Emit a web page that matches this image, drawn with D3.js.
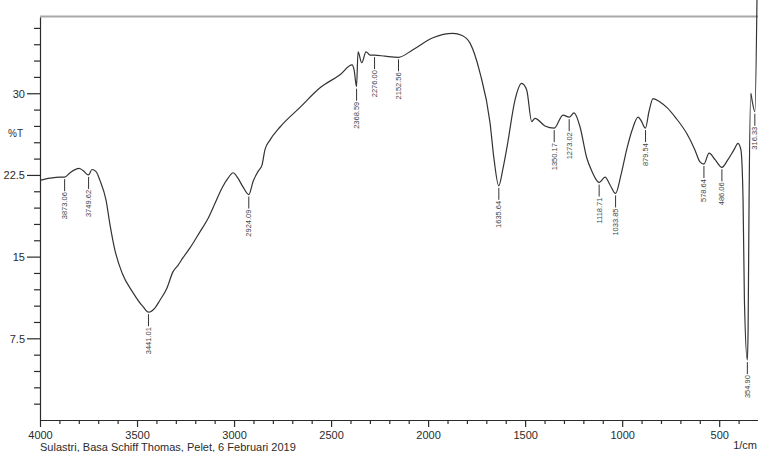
<!DOCTYPE html>
<html>
<head>
<meta charset="utf-8">
<script src="https://cdn.jsdelivr.net/npm/d3@7"></script>
<style>
  body { margin: 0; background: #fff; }
  svg { display: block; font-family: Arial, 'Liberation Sans', sans-serif; }
</style>
</head>
<body>
<div id="irFrame"></div>
<script>
// spectrum: wavenumber (1/cm) and transmittance (%T)
const wavenumber = [4000, 3948, 3897, 3873, 3845, 3799, 3778, 3750, 3732, 3711, 3691, 3660, 3639, 3614, 3577, 3521, 3469, 3441,
  3407, 3382, 3346, 3315, 3289, 3263, 3227, 3175, 3134, 3098, 3062, 3031, 3005, 2980, 2954, 2924, 2902, 2877, 2856, 2841,
  2815, 2763, 2660, 2557, 2454, 2392, 2381, 2369, 2361, 2342, 2320, 2299, 2276, 2222, 2153, 2078, 1975, 1872, 1825, 1784,
  1733, 1681, 1660, 1636, 1614, 1593, 1552, 1518, 1492, 1466, 1449, 1398, 1350, 1305, 1273, 1248, 1217, 1183, 1155, 1131,
  1119, 1088, 1063, 1034, 1006, 977, 949, 918, 903, 880, 862, 841, 805, 770, 722, 667, 625, 599, 579, 552, 521, 486, 455,
  424, 403, 388, 377, 370, 355, 351, 346, 337, 331, 316, 305]
const transmittance = [22.0, 22.2, 22.3, 22.3, 22.7, 23.1, 22.9, 22.5, 23.0, 22.8, 22.0, 20.2, 17.9, 15.6, 13.5, 11.7, 10.4, 9.9,
  10.3, 11.0, 12.1, 13.6, 14.2, 14.9, 15.8, 17.3, 18.5, 19.9, 21.3, 22.2, 22.7, 22.2, 21.4, 20.7, 21.9, 22.8, 23.4, 24.8,
  25.7, 26.9, 28.7, 30.5, 31.7, 32.6, 32.1, 30.6, 33.8, 32.8, 33.8, 33.5, 33.5, 33.4, 33.3, 34.0, 35.1, 35.5, 35.3, 34.6,
  31.9, 27.3, 23.9, 21.5, 23.1, 25.1, 29.4, 30.9, 30.3, 27.4, 27.7, 27.0, 26.8, 28.0, 27.8, 28.2, 26.9, 24.1, 22.8, 22.0,
  21.8, 22.3, 21.6, 20.8, 22.5, 24.8, 26.6, 27.8, 27.5, 26.8, 28.3, 29.5, 29.2, 28.7, 27.7, 26.3, 24.8, 23.7, 23.5, 24.5, 23.9,
  23.2, 23.9, 24.8, 25.4, 24.8, 20.2, 11.0, 5.5, 8.3, 20.2, 30.0, 29.4, 28.3, 39.0]

// peak picks printed on the chart
const peakLabels = ['3873.06', '3749.62', '3441.01', '2924.09', '2368.59', '2276.00', '2152.56', '1635.64', '1350.17',
  '1273.02', '1118.71', '1033.85', '879.54', '578.64', '486.06', '354.90', '316.33']
const peakT = [22.3, 22.5, 9.9, 20.7, 30.6, 33.5, 33.3, 21.5, 26.8, 27.8, 21.8, 20.8, 26.8, 23.5, 23.2, 5.5, 28.3]

const xMajor = [4000, 3500, 3000, 2500, 2000, 1500, 1000, 500]
const yMajor = [7.5, 15, 22.5, 30]
const footer = 'Sulastri, Basa Schiff Thomas, Pelet, 6 Februari 2019'

const width = 758
const height = 452
const plot = { left: 40, right: 758, top: 17, bottom: 420 }
const ink = '#2b2b2b'

let svg = d3.select('#irFrame')
  .append('svg')
  .attr('width', width)
  .attr('height', height)

let xScale = d3.scaleLinear()
  .domain([4000, 300])
  .range([plot.left, plot.right])
let yScale = d3.scaleLinear()
  .domain([0, 37])
  .range([plot.bottom, plot.top])

// grey frame line on top
svg.append('line')
  .attr('x1', plot.left)
  .attr('x2', plot.right)
  .attr('y1', plot.top - 0.5)
  .attr('y2', plot.top - 0.5)
  .style('stroke', '#a8a8a8')
  .style('stroke-width', 2)

// x axis, minor then major ticks
let xMinor = d3.range(3900, 300, -100).filter(v => v % 500 !== 0)
svg.append('g')
  .attr('transform', `translate(0, ${plot.bottom})`)
  .call(d3.axisBottom(xScale).tickValues(xMinor).tickSize(4).tickFormat(''))
  .call(g => g.select('.domain').remove())
let xAxis = svg.append('g')
  .attr('transform', `translate(0, ${plot.bottom})`)
  .call(d3.axisBottom(xScale).tickValues(xMajor).tickSize(7).tickSizeOuter(0).tickPadding(4).tickFormat(d3.format('d')))

// y axis, minor then major ticks
let yMinor = d3.range(1.5, 37, 1.5).filter(v => Math.abs(v / 7.5 - Math.round(v / 7.5)) > 1e-6)
svg.append('g')
  .attr('transform', `translate(${plot.left}, 0)`)
  .call(d3.axisLeft(yScale).tickValues(yMinor).tickSize(6).tickFormat(''))
  .call(g => g.select('.domain').remove())
let yAxis = svg.append('g')
  .attr('transform', `translate(${plot.left}, 0)`)
  .call(d3.axisLeft(yScale).tickValues(yMajor).tickSize(13).tickSizeOuter(0).tickPadding(2).tickFormat(d => d))

svg.selectAll('.tick line, .domain')
  .style('stroke', ink)
  .style('stroke-width', 1.2)
svg.selectAll('.tick text')
  .style('font-size', '11px')
  .style('fill', ink)
yAxis.selectAll('.tick text').attr('dy', '0.35em')

// the spectrum
let spectrum = wavenumber.map((w, i) => ({ x: w, y: transmittance[i] }))
let line = d3.line()
  .curve(d3.curveMonotoneX)
  .x(d => xScale(d.x))
  .y(d => yScale(d.y))
svg.append('path')
  .datum(spectrum)
  .style('fill', 'none')
  .style('stroke', '#333')
  .style('stroke-width', 1.2)
  .style('stroke-linejoin', 'round')
  .attr('d', line)

// peak labels: leader line under the dip, rotated text below it
let peaks = peakLabels.map((t, i) => ({ text: t, x: +t, y: peakT[i] }))
let pg = svg.selectAll('.peak')
  .data(peaks)
  .enter()
  .append('g')
  .classed('peak', true)
  .attr('transform', d => `translate(${xScale(d.x)}, ${yScale(d.y)})`)
pg.append('line')
  .attr('x1', 0)
  .attr('x2', 0)
  .attr('y1', 2)
  .attr('y2', 14)
  .style('stroke', '#333')
  .style('stroke-width', 1)
pg.append('text')
  .attr('transform', 'translate(0, 15) rotate(-90)')
  .attr('text-anchor', 'end')
  .attr('dominant-baseline', 'central')
  .style('font-size', '7.5px')
  .style('fill', '#444')
  .text(d => d.text)

// titles
svg.append('text')
  .attr('x', 8)
  .attr('y', yScale(26.3))
  .attr('dominant-baseline', 'central')
  .style('font-size', '10px')
  .style('fill', ink)
  .text('%T')
svg.append('text')
  .attr('x', plot.right - 1)
  .attr('y', 449)
  .attr('text-anchor', 'end')
  .style('font-size', '11px')
  .style('fill', ink)
  .text('1/cm')
svg.append('text')
  .attr('x', plot.left)
  .attr('y', 451)
  .style('font-size', '11px')
  .style('fill', ink)
  .text(footer)
</script>
</body>
</html>
